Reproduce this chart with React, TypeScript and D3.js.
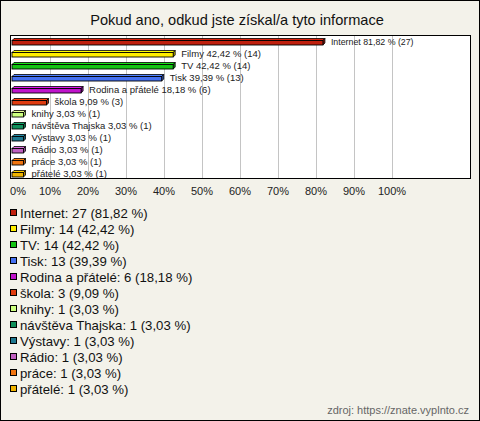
import React from "react";
import * as d3 from "d3";

const categories = ["Internet", "Filmy", "TV", "Tisk", "Rodina a přátelé", "škola", "knihy", "návštěva Thajska", "Výstavy", "Rádio", "práce", "přátelé"];
const counts = [27, 14, 14, 13, 6, 3, 1, 1, 1, 1, 1, 1];
const percents = [81.82, 42.42, 42.42, 39.39, 18.18, 9.09, 3.03, 3.03, 3.03, 3.03, 3.03, 3.03];
const colors = ["#c0200e", "#ffee00", "#14c414", "#4470f0", "#c014cc", "#e03c10", "#ccff80", "#10905c", "#1e7890", "#c060c0", "#f07410", "#f0b400"];
const tickValues = [0, 10, 20, 30, 40, 50, 60, 70, 80, 90, 100];
const title = "Pokud ano, odkud jste získal/a tyto informace";
const source = "zdroj: https://znate.vyplnto.cz";

const fmt = (v: number) => v.toFixed(2).replace(".", ",");

export default function App() {
  const W = 480, H = 421;
  const plot = { x0: 10, x1: 471, y0: 35, y1: 179 };
  const x = d3.scaleLinear().domain([0, 100]).range([12, 392]);
  const y = d3.scaleBand<string>().domain(categories).range([plot.y0, plot.y1]);
  const bh = 4.5, dep = 2;
  const font = "'Liberation Sans', Arial, sans-serif";

  return (
    <svg width={W} height={H} style={{ position: "absolute", left: 0, top: 0 }} fontFamily={font}>
      <rect x={0.5} y={0.5} width={W - 1} height={H - 1} fill="#f3f2ea" stroke="#000" />
      <text x={237} y={25} textAnchor="middle" fontSize={14.6} fill="#111">{title}</text>
      <rect x={plot.x0 + 0.5} y={plot.y0 + 0.5} width={plot.x1 - plot.x0 - 1} height={plot.y1 - plot.y0 - 1} fill="#fff" stroke="none" />
      {tickValues.filter(t => t > 0).map(t => (
        <line key={t} x1={Math.round(x(t)) + 0.5} x2={Math.round(x(t)) + 0.5} y1={plot.y0} y2={plot.y1} stroke="#c4c4c4" />
      ))}
      {categories.map((c, i) => {
        const top = (y(c) as number) + 5.5;
        const x0 = x(0), x1 = x(percents[i]);
        const col = colors[i];
        const light = d3.color(col)!.brighter(0.4).formatHex();
        const dark = d3.color(col)!.darker(0.8).formatHex();
        return (
          <g key={c}>
            <polygon points={`${x0},${top} ${x0 + dep},${top - dep} ${x1 + dep},${top - dep} ${x1},${top}`} fill={light} stroke="#000" strokeWidth={0.8} />
            <polygon points={`${x1},${top} ${x1 + dep},${top - dep} ${x1 + dep},${top + bh - dep} ${x1},${top + bh}`} fill={dark} stroke="#000" strokeWidth={0.8} />
            <rect x={x0} y={top} width={x1 - x0} height={bh} fill={col} stroke="#000" strokeWidth={0.9} />
            <text x={x1 + 8} y={top + bh} fontSize={i === 0 ? 8.8 : 9.5} fill="#222">{`${c} ${fmt(percents[i])} % (${counts[i]})`}</text>
          </g>
        );
      })}
      <rect x={plot.x0 + 0.5} y={plot.y0 + 0.5} width={plot.x1 - plot.x0 - 1} height={plot.y1 - plot.y0 - 1} fill="none" stroke="#000" />
      {tickValues.map(t => (
        <text key={t} x={t === 0 ? 18 : x(t)} y={195} textAnchor="middle" fontSize={11} fill="#222">{`${t}%`}</text>
      ))}
      {categories.map((c, i) => {
        const cy = 213 + i * 16;
        return (
          <g key={c}>
            <rect x={10.5} y={cy - 3.5} width={6} height={6} fill={colors[i]} stroke="#000" />
            <text x={20} y={cy + 4.5} fontSize={13.2} fill="#111">{`${c}: ${counts[i]} (${fmt(percents[i])} %)`}</text>
          </g>
        );
      })}
      <text x={469} y={414} textAnchor="end" fontSize={11} fill="#666">{source}</text>
    </svg>
  );
}
